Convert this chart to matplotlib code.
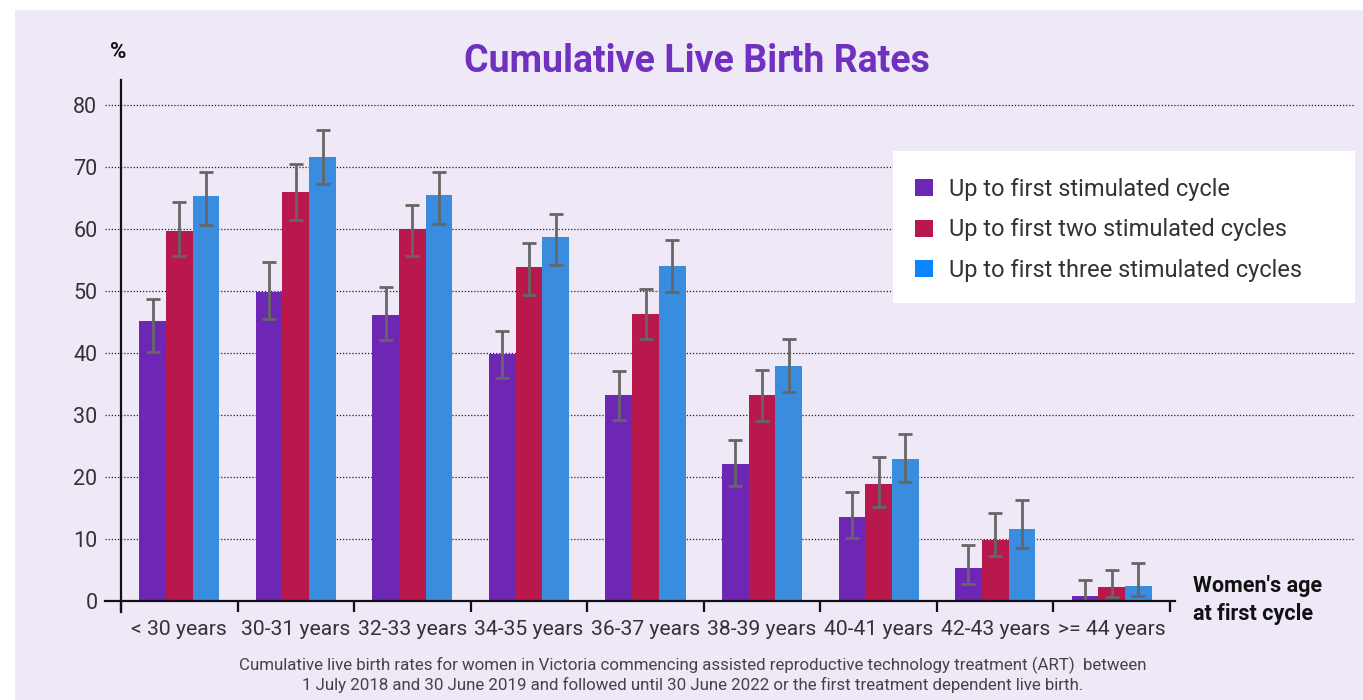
import matplotlib
matplotlib.use("Agg")
import matplotlib.pyplot as plt
import numpy as np
from matplotlib.patches import Patch, Rectangle
from matplotlib.lines import Line2D

plt.rcParams['font.family'] = ['Roboto', 'DejaVu Sans']

categories = ["< 30 years", "30-31 years", "32-33 years", "34-35 years", "36-37 years",
              "38-39 years", "40-41 years", "42-43 years", ">= 44 years"]
series_names = ["Up to first stimulated cycle", "Up to first two stimulated cycles",
                "Up to first three stimulated cycles"]

one_cycle = [45.2, 49.8, 46.1, 39.9, 33.2, 22.1, 13.6, 5.3, 0.8]
one_low = [40.1, 45.4, 42.1, 36.0, 29.2, 18.5, 10.2, 2.7, 0.0]
one_high = [48.7, 54.6, 50.6, 43.5, 37.1, 25.9, 17.5, 9.1, 3.4]

two_cycles = [59.7, 65.9, 59.9, 53.9, 46.3, 33.2, 18.9, 9.9, 2.3]
two_low = [55.7, 61.5, 55.7, 49.4, 42.3, 29.0, 15.2, 7.3, 0.6]
two_high = [64.3, 70.4, 63.9, 57.7, 50.3, 37.3, 23.2, 14.2, 5.0]

three_cycles = [65.3, 71.6, 65.4, 58.7, 54.0, 37.9, 22.9, 11.6, 2.4]
three_low = [60.7, 67.2, 60.8, 54.2, 49.8, 33.7, 19.2, 8.5, 0.8]
three_high = [69.2, 75.9, 69.2, 62.4, 58.2, 42.2, 27.0, 16.3, 6.1]

yticks = [0, 10, 20, 30, 40, 50, 60, 70, 80]

bar_colors = ["#6E26B4", "#B9184C", "#3A8DDE"]
legend_colors = ["#6E26B4", "#B9184C", "#0A84FF"]
bg = "#EEE8F7"

W, H = 1363, 700
fig = plt.figure(figsize=(W / 100, H / 100), dpi=100)
fig.patch.set_facecolor("white")
fig.patches.append(Rectangle((15 / W, 0), 1 - 15 / W, 1 - 10 / H, transform=fig.transFigure,
                             facecolor=bg, edgecolor="none", zorder=-10))

left, right = 121 / W, 1170 / W
bottom, top = 1 - 601 / H, 1 - 80 / H
ax = fig.add_axes([left, bottom, right - left, top - bottom])
ax.set_facecolor("none")
axw = 1170 - 121

x = np.arange(len(categories))
bw = 0.229
series = [(one_cycle, one_low, one_high), (two_cycles, two_low, two_high),
          (three_cycles, three_low, three_high)]
for i, (vals, lo, hi) in enumerate(series):
    vals = np.array(vals); lo = np.array(lo); hi = np.array(hi)
    pos = x + (i - 1) * bw
    ax.bar(pos, vals, width=bw, color=bar_colors[i], zorder=3, linewidth=0)
    ax.errorbar(pos, vals, yerr=[vals - lo, hi - vals], fmt="none", ecolor="#666666",
                elinewidth=2, capsize=4.8, capthick=2, zorder=4)

ax.set_xlim(-0.5, 8.5)
ax.set_ylim(0, 84)

# gridlines extending left of the axis and right across the panel
for yv in yticks[1:]:
    ax.axhline(yv, xmin=-16 / axw, xmax=(1355 - 121) / axw, color="#222222",
               linestyle=(0, (1, 1.5)), linewidth=0.9, clip_on=False, zorder=1)
ax.axhline(0, xmin=-16 / axw, xmax=(1175 - 121) / axw, color="#111111", linewidth=1.6,
           clip_on=False, zorder=5)

for s in ax.spines.values():
    s.set_visible(False)
ax.add_line(Line2D([0, 0], [-11 / 521, 1], transform=ax.transAxes, color="#111111",
                   linewidth=1.6, clip_on=False, zorder=5))

ax.set_yticks(yticks)
ax.set_yticklabels([str(v) for v in yticks], fontsize=15.5, color="#333333")
ax.tick_params(axis="y", length=0, pad=17)

ax.set_xticks(np.arange(-0.5, 9.0, 1.0))
ax.set_xticklabels([])
ax.tick_params(axis="x", which="major", length=8, width=1.6, color="#111111", direction="out")
ax.set_xticks(x, minor=True)
ax.set_xticklabels(categories, minor=True, fontsize=15.2, color="#333333")
ax.tick_params(axis="x", which="minor", length=0, pad=14)

fig.text(697 / W, 1 - 61 / H, "Cumulative Live Birth Rates", ha="center", va="center",
         fontsize=27, fontweight="bold", color="#7030C0")
fig.text(118 / W, 1 - 52 / H, "%", ha="center", va="center", fontsize=16,
         fontweight="bold", color="#111111")
fig.text(1193 / W, 1 - 600 / H, "Women's age\nat first cycle", ha="left", va="center",
         fontsize=15.5, fontweight="bold", color="#111111", linespacing=1.35)
fig.text(693 / W, 1 - 675 / H,
         "Cumulative live birth rates for women in Victoria commencing assisted reproductive technology treatment (ART)  between\n"
         "1 July 2018 and 30 June 2019 and followed until 30 June 2022 or the first treatment dependent live birth.",
         ha="center", va="center", fontsize=12.2, color="#444444", linespacing=1.25)

# legend box
fig.patches.append(Rectangle((893 / W, 1 - 303 / H), (1355 - 893) / W, (303 - 151) / H,
                             transform=fig.transFigure, facecolor="white", edgecolor="none",
                             zorder=2))
handles = [Patch(facecolor=c, edgecolor="none") for c in legend_colors]
leg = fig.legend(handles, series_names, loc="center left",
                 bbox_to_anchor=(908 / W, 1 - 230 / H), fontsize=17, frameon=False,
                 labelspacing=0.74, handlelength=0.75, handleheight=0.75,
                 handletextpad=0.7, borderaxespad=0, borderpad=0.3)
leg.set_zorder(3)
for t in leg.get_texts():
    t.set_color("#333333")

fig.savefig("out.png", dpi=100, facecolor=fig.get_facecolor())
